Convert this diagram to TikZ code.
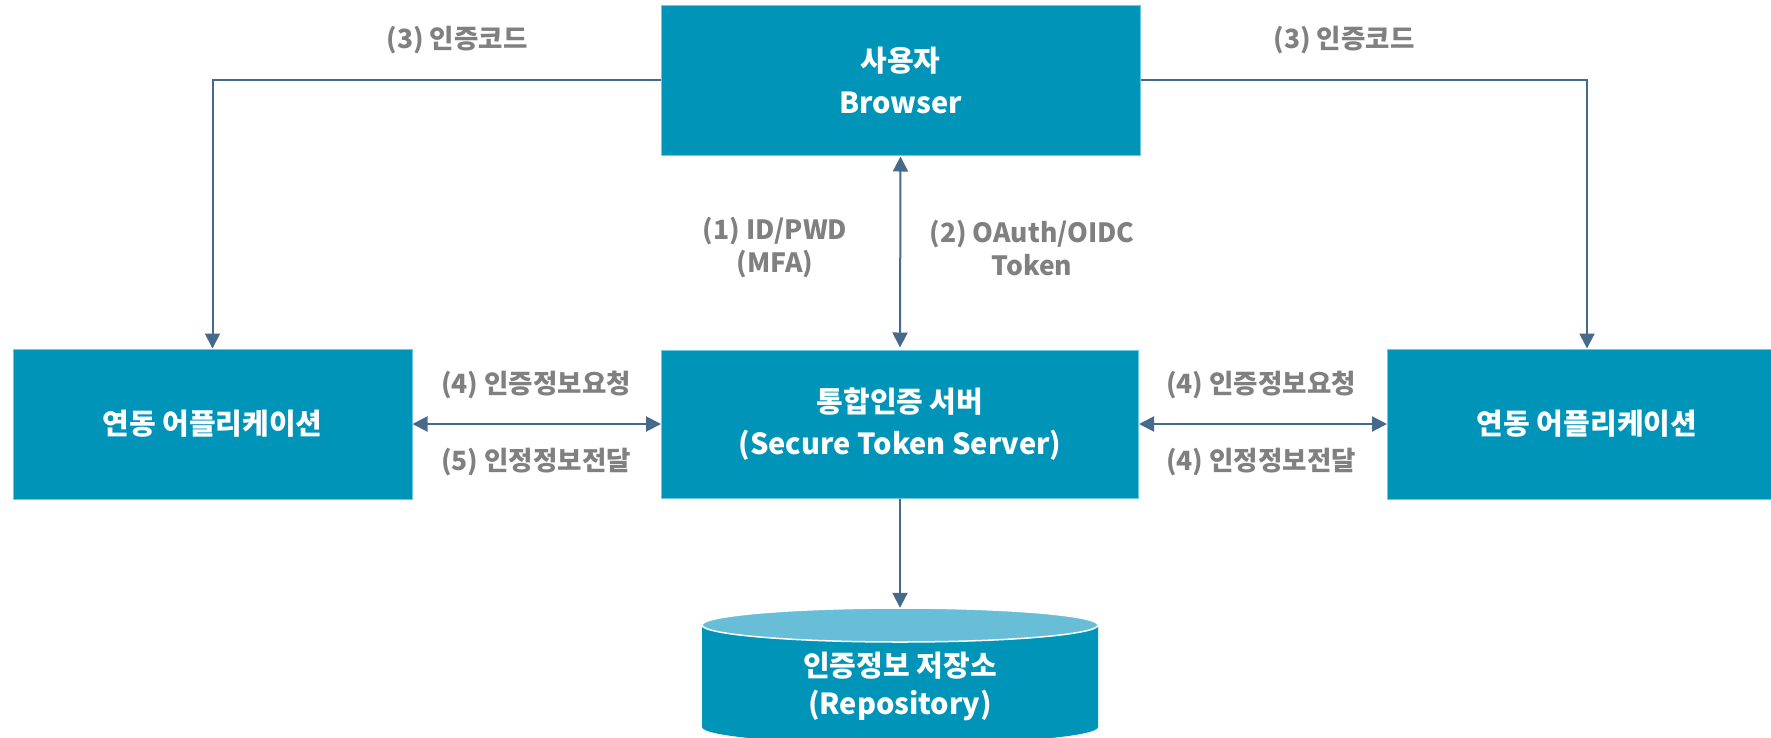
\documentclass[tikz,border=0pt]{standalone}
\usepackage{fontspec}
\setmainfont{Noto Sans CJK KR}
\usetikzlibrary{arrows.meta}
\definecolor{boxc}{RGB}{0,148,185}
\definecolor{edgec}{RGB}{110,200,222}
\definecolor{topc}{RGB}{104,190,214}
\definecolor{arrc}{RGB}{69,106,140}
\definecolor{labc}{RGB}{128,128,128}
\begin{document}
\begin{tikzpicture}[x=1pt,y=-1pt,
  box/.style={fill=boxc, draw=edgec, line width=1pt, text=white, align=center,
    font=\fontsize{29}{42}\selectfont\bfseries, inner sep=0pt},
  lab/.style={text=labc, align=center, font=\fontsize{26.5}{33}\selectfont\bfseries, inner sep=0pt},
  conn/.style={draw=arrc, line width=2pt, -{Triangle[length=15pt,width=15pt]}},
  dconn/.style={draw=arrc, line width=2pt, {Triangle[length=15pt,width=15pt]}-{Triangle[length=15pt,width=15pt]}}
]
\useasboundingbox (0,0) rectangle (1771,737);
% nodes
\node[box, minimum width=479pt, minimum height=150pt] (user) at (900.5,80) {사용자\\Browser};
\node[box, minimum width=477pt, minimum height=148pt] (sts) at (900,424) {통합인증 서버\\(Secure Token Server)};
\node[box, minimum width=399pt, minimum height=150pt] (appL) at (212.5,424) {연동 어플리케이션};
\node[box, minimum width=399pt, minimum height=150pt] (appR) at (1587,424) {연동 어플리케이션};
% cylinder repository
\fill[boxc] (702,625) -- (702,727) arc[start angle=180, end angle=360, x radius=198pt, y radius=17pt] -- (1098,625) -- cycle;
\draw[white, line width=1.5pt, fill=topc] (900,625) ellipse[x radius=198pt, y radius=17pt];
\node[minimum width=396pt, minimum height=156pt, inner sep=0pt, text=white, align=center,
  font=\fontsize{29}{38}\selectfont\bfseries] (repo) at (900,686) {인증정보 저장소\\(Repository)};
% connectors
\draw[conn] (user.west) -| (appL.north);
\draw[conn] (user.east) -| (appR.north);
\draw[dconn, shorten <=1pt, shorten >=2pt] (user.south) -- (sts.north);
\draw[dconn] (appL.east) -- (sts.west);
\draw[dconn] (sts.east) -- (appR.west);
\draw[conn] (sts.south) -- (repo.north);
% labels
\node[lab] (l3a) at (457,40) {(3) 인증코드};
\node[lab] (l3b) at (1344,40) {(3) 인증코드};
\node[lab] (l1) at (775,248) {(1) ID/PWD\\(MFA)};
\node[lab] (l2) at (1032,248) {(2) OAuth/OIDC\\Token};
\node[lab] (l4a) at (536,385) {(4) 인증정보요청};
\node[lab] (l5a) at (536,462) {(5) 인정정보전달};
\node[lab] (l4b) at (1261,385) {(4) 인증정보요청};
\node[lab] (l4c) at (1261,462) {(4) 인정정보전달};
\end{tikzpicture}
\end{document}
